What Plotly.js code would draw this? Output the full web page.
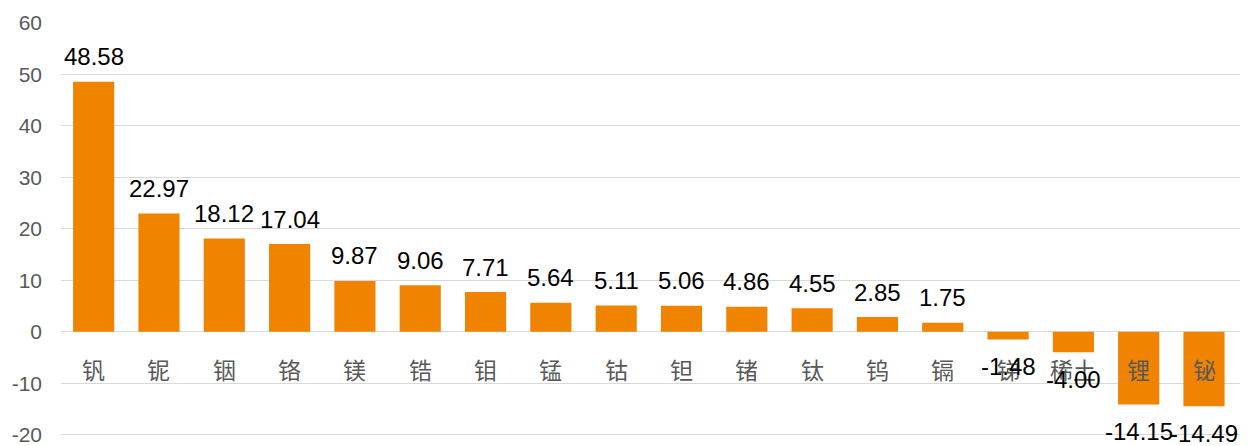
<!DOCTYPE html>
<html><head><meta charset="utf-8">
<script src="https://cdn.plot.ly/plotly-3.0.1.min.js"></script>
<style>html,body{margin:0;padding:0;background:#fff}</style>
</head><body>
<div id="chart" style="width:1253px;height:446px"></div>
<script>
const categories = ['钒','铌','铟','铬','镁','锆','钼','锰','钴','钽','锗','钛','钨','镉','锑','稀土','锂','铋'];
const values = [48.58, 22.97, 18.12, 17.04, 9.87, 9.06, 7.71, 5.64, 5.11, 5.06, 4.86, 4.55, 2.85, 1.75, -1.48, -4.00, -14.15, -14.49];
const yTicks = [-20, -10, 0, 10, 20, 30, 40, 50, 60];

const trace = {
  type: 'bar', x: categories, y: values,
  marker: {color: '#F08300'},
  hoverinfo: 'x+y'
};
const annotations = [];
categories.forEach((c, i) => {
  annotations.push({x: c, y: 0, xref: 'x', yref: 'y', text: c, showarrow: false,
    yanchor: 'middle', yshift: -37, font: {family: 'Noto Sans CJK SC', size: 23, color: '#595959'}});
  const v = values[i];
  annotations.push({x: c, y: v, xref: 'x', yref: 'y', text: v.toFixed(2), showarrow: false,
    yanchor: 'middle', yshift: v >= 0 ? 25 : -27, font: {family: 'Liberation Sans, Arial', size: 24, color: '#000'}});
});
const layout = {
  width: 1253, height: 446,
  margin: {l: 61, r: 13, t: 23, b: 10},
  paper_bgcolor: '#fff', plot_bgcolor: '#fff',
  bargap: 0.37,
  showlegend: false,
  font: {family: 'Liberation Sans, Arial', size: 21, color: '#595959'},
  xaxis: {showticklabels: false, showgrid: false, zeroline: false, showline: false, ticks: ''},
  yaxis: {range: [-20.25, 60], tickvals: yTicks, ticktext: yTicks.map(String), showgrid: true,
    gridcolor: '#d9d9d9', gridwidth: 1, zeroline: true, zerolinecolor: '#d9d9d9', zerolinewidth: 1,
    showline: false, ticks: '', ticklabelstandoff: 18, ticklabeloverflow: 'allow',
    tickfont: {family: 'Liberation Sans, Arial', size: 21, color: '#595959'}},
  annotations: annotations
};
Plotly.newPlot('chart', [trace], layout, {displayModeBar: false, staticPlot: true});
</script>
</body></html>
